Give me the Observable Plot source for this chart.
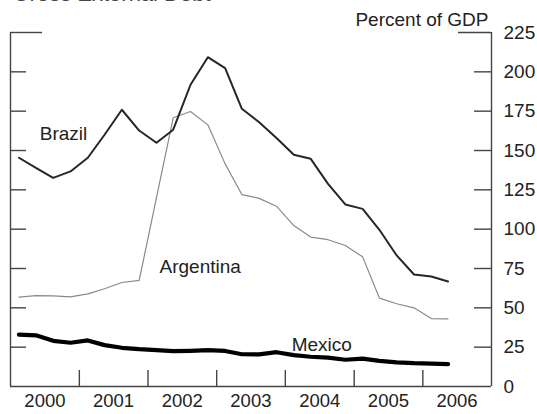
<!DOCTYPE html>
<html>
<head>
<meta charset="utf-8">
<script src="https://cdn.jsdelivr.net/npm/d3@7"></script>
<script src="https://cdn.jsdelivr.net/npm/@observablehq/plot@0.6"></script>
<style>
  html, body { margin: 0; padding: 0; background: #fff; }
  #chart svg { display: block; font-family: "Liberation Sans", Arial, sans-serif; }
</style>
</head>
<body>
<div id="chart"></div>
<script>
// Quarterly observations, 2000Q1 – 2006Q2
const quarters = ["2000Q1","2000Q2","2000Q3","2000Q4","2001Q1","2001Q2","2001Q3","2001Q4",
  "2002Q1","2002Q2","2002Q3","2002Q4","2003Q1","2003Q2","2003Q3","2003Q4",
  "2004Q1","2004Q2","2004Q3","2004Q4","2005Q1","2005Q2","2005Q3","2005Q4",
  "2006Q1","2006Q2"];
const brazil = [145.4, 139, 132.6, 136.7, 145.4, 160, 175.9, 162.7, 154.9, 163.2, 191.8, 209.3,
  202.3, 176.5, 168, 158, 147.3, 144.7, 128.8, 115.7, 112.9, 99.6, 83.3, 71.2, 69.9, 66.7];
const argentina = [56.8, 57.8, 57.6, 57, 58.9, 62.1, 66.1, 67.4, 120, 170.8, 174.8, 166.3,
  141.5, 122, 119.6, 114.6, 102.3, 95, 93.3, 89.6, 82.4, 56.2, 52.6, 50, 43.2, 43];
const mexico = [33, 32.5, 29, 27.8, 29.3, 26.3, 24.6, 23.7, 23.1, 22.5, 22.7, 23.1, 22.6,
  20.5, 20.4, 21.8, 19.9, 18.9, 18.3, 17, 17.7, 16.3, 15.3, 14.8, 14.6, 14.2];
const years = [2000, 2001, 2002, 2003, 2004, 2005, 2006];
const yTicks = [0, 25, 50, 75, 100, 125, 150, 175, 200, 225];
const seriesNames = ["Brazil", "Argentina", "Mexico"];
const labelYears = [2000.77, 2002.76, 2004.53];
const labelValues = [160.7, 75.7, 26.6];

const qDate = q => {
  const y = +q.slice(0, 4), n = +q.slice(5);
  return new Date(Date.UTC(y, (n - 1) * 3 + 1, 15));
};
const fracDate = f => {
  const y = Math.floor(f);
  const s = Date.UTC(y, 0, 1), e = Date.UTC(y + 1, 0, 1);
  return new Date(s + (f - y) * (e - s));
};
const rows = (vals) => quarters.map((q, i) => ({date: qDate(q), value: vals[i]}));
const bra = rows(brazil), arg = rows(argentina), mex = rows(mexico);
const boundaries = years.slice(1).map(y => new Date(Date.UTC(y, 0, 1)));
const midYears = years.map(y => new Date(Date.UTC(y, 6, 2)));
const xDomain = [new Date(Date.UTC(years[0], 0, 1)), new Date(Date.UTC(years[years.length - 1] + 1, 0, 1))];
const labels = seriesNames.map((n, i) => ({name: n, date: fracDate(labelYears[i]), value: labelValues[i]}));

const W = 537, H = 414, mL = 10, mR = 46, mT = 32, mB = 28;
const plotW = W - mL - mR, plotH = H - mT - mB;
const axisColor = "#444";
const textColor = "#222";

const chart = Plot.plot({
  width: W, height: H,
  marginLeft: mL, marginRight: mR, marginTop: mT, marginBottom: mB,
  style: {fontFamily: '"Liberation Sans", Arial, sans-serif', fontSize: "19px", color: textColor, background: "#fff"},
  x: {type: "utc", domain: xDomain},
  y: {domain: [0, 225]},
  marks: [
    // frame lines
    Plot.ruleX(xDomain, {stroke: axisColor, strokeWidth: 1.4}),
    Plot.ruleY([0], {stroke: axisColor, strokeWidth: 1.4}),
    // inward ticks
    Plot.tickY(yTicks.filter(d => d > 0 && d < 225), {y: d => d, insetRight: plotW - 16, stroke: axisColor, strokeWidth: 1.4}),
    Plot.tickY(yTicks.filter(d => d > 0 && d < 225), {y: d => d, insetLeft: plotW - 17, stroke: axisColor, strokeWidth: 1.4}),
    Plot.tickY([225], {y: d => d, insetRight: plotW - 32, stroke: axisColor, strokeWidth: 1.4}),
    Plot.tickY([225], {y: d => d, insetLeft: plotW - 33, stroke: axisColor, strokeWidth: 1.4}),
    Plot.tickX(boundaries, {x: d => d, insetTop: plotH - 16, stroke: axisColor, strokeWidth: 1.4}),
    // axes labels
    Plot.axisY({anchor: "right", ticks: yTicks, tickSize: 0, tickPadding: 12, label: null,
      fontSize: 19, fill: textColor}),
    Plot.axisX({ticks: midYears, tickSize: 0, tickPadding: 7, label: null,
      tickFormat: d => String(d.getUTCFullYear()), fontSize: 18.5, fill: textColor}),
    // series
    Plot.lineY(arg, {x: "date", y: "value", stroke: "#8a8a8a", strokeWidth: 1.2}),
    Plot.lineY(bra, {x: "date", y: "value", stroke: "#262626", strokeWidth: 2}),
    Plot.lineY(mex, {x: "date", y: "value", stroke: "#000", strokeWidth: 4.2}),
    // series labels
    Plot.text(labels, {x: "date", y: "value", text: "name", fontSize: 19, fill: textColor}),
    // unit label and (cropped) title
    Plot.text(["Percent of GDP"], {frameAnchor: "top-right", text: d => d, textAnchor: "end",
      lineAnchor: "bottom", dx: -3, dy: -6.5, fontSize: 19, fill: textColor}),
    Plot.text(["Gross External Debt"], {frameAnchor: "top-left", text: d => d, textAnchor: "start",
      lineAnchor: "bottom", dx: 2, dy: -32, fontSize: 22, fill: "#444"})
  ]
});
document.getElementById("chart").append(chart);
</script>
</body>
</html>
